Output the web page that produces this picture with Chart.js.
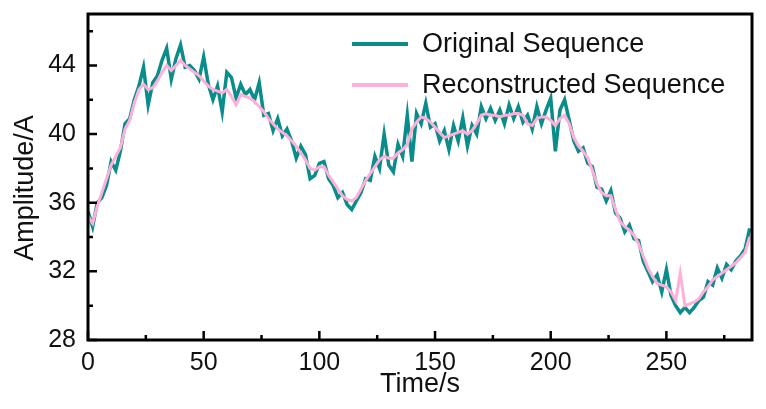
<!DOCTYPE html>
<html>
<head>
<meta charset="utf-8">
<script src="https://cdn.jsdelivr.net/npm/chart.js@4.4.0/dist/chart.umd.min.js"></script>
<style>
  html, body { margin: 0; padding: 0; background: #fff; }
</style>
</head>
<body>
<canvas id="myChart" width="766" height="409"></canvas>
<script>
var time = [
  0, 2, 4, 6, 8, 10, 12, 14, 16, 18,
  20, 22, 24, 26, 28, 30, 32, 34, 36, 38,
  40, 42, 44, 46, 48, 50, 52, 54, 56, 58,
  60, 62, 64, 66, 68, 70, 72, 74, 76, 78,
  80, 82, 84, 86, 88, 90, 92, 94, 96, 98,
  100, 102, 104, 106, 108, 110, 112, 114, 116, 118,
  120, 122, 124, 126, 128, 130, 132, 134, 136, 138,
  140, 142, 144, 146, 148, 150, 152, 154, 156, 158,
  160, 162, 164, 166, 168, 170, 172, 174, 176, 178,
  180, 182, 184, 186, 188, 190, 192, 194, 196, 198,
  200, 202, 204, 206, 208, 210, 212, 214, 216, 218,
  220, 222, 224, 226, 228, 230, 232, 234, 236, 238,
  240, 242, 244, 246, 248, 250, 252, 254, 256, 258,
  260, 262, 264, 266, 268, 270, 272, 274, 276, 278,
  280, 282, 284, 286
];
var original = [
  35.5, 34.6, 36.0, 36.3, 37.0, 38.4, 37.9, 39.0, 40.6, 40.9,
  42.0, 42.8, 43.9, 41.7, 43.0, 43.4, 44.3, 45.0, 43.2, 44.4,
  45.2, 43.9, 44.0, 43.7, 43.2, 44.5, 42.9, 42.0, 42.8, 41.3,
  43.6, 43.3, 42.1, 42.9, 42.3, 42.6, 42.0, 43.0, 41.1, 41.2,
  40.2, 40.9, 39.9, 40.3, 39.6, 38.6, 39.3, 38.8, 37.4, 37.6,
  38.3, 38.4, 37.4, 37.0, 36.3, 36.6, 35.9, 35.6, 36.1, 36.6,
  37.4, 37.3, 38.7, 38.0, 40.0, 38.2, 37.8, 39.4, 38.7, 41.1,
  38.4, 41.2, 40.6, 41.8, 40.4, 40.6, 39.6, 40.2, 39.1, 40.5,
  39.6, 40.95, 39.3, 40.5, 40.0, 41.6, 40.9, 41.5, 40.8, 41.4,
  40.6, 41.7, 40.9, 41.6, 40.7, 41.1, 40.3, 41.6, 40.6, 41.4,
  42.1, 39.0, 41.4, 42.0, 40.8, 39.6, 39.0, 39.2, 38.3, 38.1,
  36.9, 36.8, 36.1, 36.7, 35.4, 35.1, 34.3, 34.7, 33.9, 33.8,
  32.6, 32.0, 31.4, 31.8, 30.8, 32.1, 30.6, 30.0, 29.6, 29.9,
  29.6, 29.9, 30.3, 30.5, 31.4, 31.2, 32.2, 31.6, 32.4, 32.1,
  32.6, 32.9, 33.3, 34.5
];
var reconstructed = [
  35.2, 34.8, 35.8, 36.6, 37.4, 38.2, 38.7, 39.2, 40.3, 40.8,
  41.8, 42.6, 42.9, 42.6, 42.7, 43.1, 43.6, 44.0, 43.7, 44.0,
  44.3, 44.0, 43.8, 43.6, 43.4, 43.1, 42.8, 42.6, 42.5, 42.4,
  42.6, 42.2, 41.7, 42.3, 42.2, 42.1, 41.9, 41.6, 41.3, 40.9,
  40.6, 40.3, 40.1, 39.9, 39.6, 39.3, 38.9, 38.5, 38.0, 37.9,
  38.1, 38.1, 37.6, 37.2, 36.8, 36.4, 36.2, 36.1, 36.3, 36.8,
  37.3, 37.7, 38.1, 38.5, 38.7, 38.6, 38.6, 38.9, 39.1, 39.4,
  40.3, 40.7, 41.0, 40.9, 40.7, 40.4, 40.1, 39.8, 39.9, 40.0,
  40.1, 40.2, 40.0, 40.2, 40.6, 41.1, 41.2, 41.1, 41.1, 41.0,
  41.1, 41.1, 41.2, 41.2, 41.1, 40.6, 40.5, 40.9, 41.0, 41.0,
  40.8, 40.5, 40.9, 41.1, 40.6, 39.8, 39.3, 39.0, 38.6, 37.9,
  37.1, 36.6, 36.4, 36.4, 35.6, 34.9, 34.6, 34.4, 34.1, 33.6,
  32.9, 32.2, 31.7, 31.3, 31.2, 31.1, 30.8, 30.3, 31.9, 30.0,
  30.1, 30.2, 30.4, 30.8, 31.1, 31.5, 31.7, 31.9, 32.1, 32.3,
  32.5, 32.8, 33.1, 34.0
];
var xTicks = [0, 50, 100, 150, 200, 250];
var xMinor = [25, 75, 125, 175, 225, 275];
var yTicks = [28, 32, 36, 40, 44];
var yMinor = [30, 34, 38, 42, 46];

var tealColor = '#0A8C8B';
var pinkColor = '#FFB0D8';
var fontName = "'Liberation Sans', Arial, sans-serif";

function toPoints(ys) {
    return time.map(function (t, i) { return { x: t, y: ys[i] }; });
}

// frame, inward ticks, y title and the legend inside the plot
var framePlugin = {
    id: 'frame',
    afterDraw: function (chart) {
        var ctx = chart.ctx;
        var a = chart.chartArea;
        var sx = chart.scales.x;
        var sy = chart.scales.y;
        ctx.save();
        ctx.strokeStyle = '#000';
        ctx.lineWidth = 3;
        ctx.strokeRect(a.left, a.top, a.right - a.left, a.bottom - a.top);

        ctx.lineWidth = 2.5;
        ctx.beginPath();
        xTicks.forEach(function (v) {
            var p = sx.getPixelForValue(v);
            ctx.moveTo(p, a.bottom); ctx.lineTo(p, a.bottom - 9);
        });
        xMinor.forEach(function (v) {
            var p = sx.getPixelForValue(v);
            ctx.moveTo(p, a.bottom); ctx.lineTo(p, a.bottom - 5);
        });
        yTicks.forEach(function (v) {
            var p = sy.getPixelForValue(v);
            ctx.moveTo(a.left, p); ctx.lineTo(a.left + 9, p);
        });
        yMinor.forEach(function (v) {
            var p = sy.getPixelForValue(v);
            ctx.moveTo(a.left, p); ctx.lineTo(a.left + 5, p);
        });
        ctx.stroke();

        // y axis title, a bit below the plot centre like the original
        ctx.font = '27px ' + fontName;
        ctx.fillStyle = '#111';
        ctx.textAlign = 'center';
        ctx.textBaseline = 'middle';
        ctx.save();
        ctx.translate(26, 188);
        ctx.rotate(-Math.PI / 2);
        ctx.fillText('Amplitude/A', 0, 0);
        ctx.restore();

        // legend
        var items = [
            { label: 'Original Sequence', color: tealColor, y: 44 },
            { label: 'Reconstructed Sequence', color: pinkColor, y: 85 }
        ];
        ctx.textAlign = 'left';
        items.forEach(function (it) {
            ctx.strokeStyle = it.color;
            ctx.lineWidth = 4;
            ctx.beginPath();
            ctx.moveTo(352, it.y); ctx.lineTo(408, it.y);
            ctx.stroke();
            ctx.fillStyle = '#111';
            ctx.fillText(it.label, 422, it.y + 1);
        });
        ctx.restore();
    }
};

var ctx = document.getElementById('myChart').getContext('2d');
var myChart = new Chart(ctx, {
    type: 'line',
    data: {
        datasets: [{
            label: 'Original Sequence',
            data: toPoints(original),
            borderColor: tealColor,
            borderWidth: 3.5,
            pointRadius: 0,
            tension: 0,
            order: 1
        }, {
            label: 'Reconstructed Sequence',
            data: toPoints(reconstructed),
            borderColor: pinkColor,
            borderWidth: 3,
            pointRadius: 0,
            tension: 0,
            order: 0
        }]
    },
    options: {
        responsive: false,
        animation: false,
        layout: { padding: { top: 14, right: 14, left: 0, bottom: 0 } },
        plugins: {
            legend: { display: false },
            tooltip: { enabled: false }
        },
        scales: {
            x: {
                type: 'linear',
                min: 0,
                max: 287,
                grid: { display: false, drawTicks: false },
                border: { display: false },
                afterBuildTicks: function (s) { s.ticks = xTicks.map(function (v) { return { value: v }; }); },
                afterFit: function (s) { s.height = 69; s.paddingLeft = 0; s.paddingRight = 0; },
                ticks: { color: '#111', padding: 8, maxRotation: 0, font: { family: fontName, size: 25 } },
                title: { display: true, text: 'Time/s', color: '#111', padding: { top: 0, bottom: 8 }, font: { family: fontName, size: 27 } }
            },
            y: {
                min: 28,
                max: 47,
                grid: { display: false, drawTicks: false },
                border: { display: false },
                afterBuildTicks: function (s) { s.ticks = yTicks.map(function (v) { return { value: v }; }); },
                afterFit: function (s) { s.width = 88; s.paddingTop = 0; s.paddingBottom = 0; },
                ticks: { color: '#111', padding: 12, font: { family: fontName, size: 25 } },
                title: { display: false }
            }
        }
    },
    plugins: [framePlugin]
});
</script>
</body>
</html>
